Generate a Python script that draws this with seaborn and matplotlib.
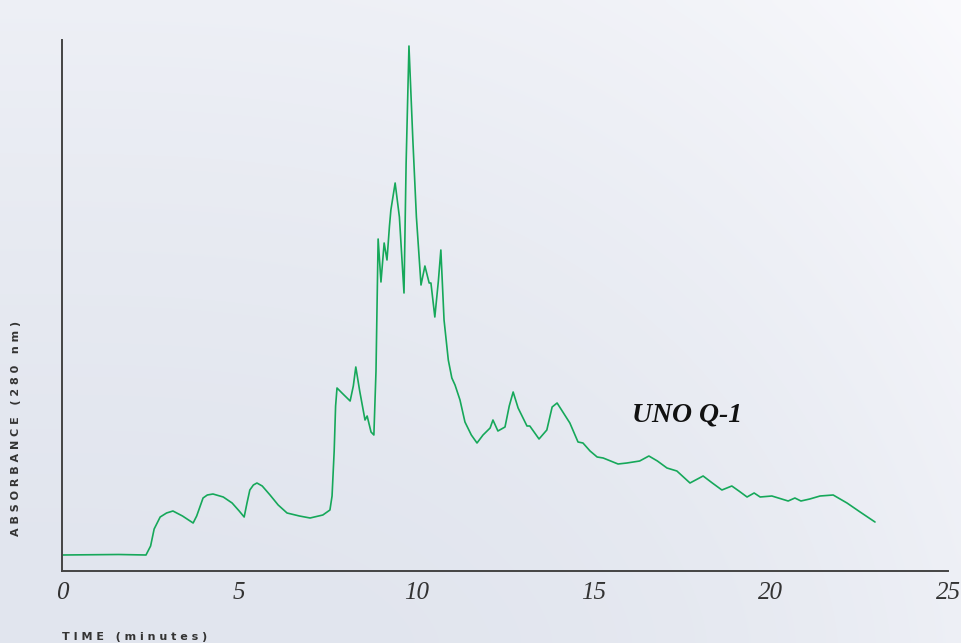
import numpy as np
import pandas as pd
import matplotlib
matplotlib.use("Agg")
import matplotlib.pyplot as plt
import seaborn as sns

# Chromatogram trace (time in minutes, absorbance in arbitrary units)
time_min = [0.0, 1.6, 2.37, 2.5, 2.6, 2.77, 2.95, 3.13, 3.4, 3.70, 3.8, 3.98, 4.1, 4.26,
            4.55, 4.8, 5.0, 5.14, 5.22, 5.3, 5.4, 5.50, 5.65, 5.87, 6.1, 6.35, 6.7, 7.0,
            7.36, 7.56, 7.62, 7.68, 7.72, 7.76, 7.9, 8.13, 8.22, 8.29, 8.4, 8.55, 8.61, 8.72,
            8.80, 8.86, 8.92, 9.0, 9.09, 9.17, 9.24, 9.28, 9.40, 9.52, 9.65, 9.71, 9.79, 9.9,
            10.0, 10.13, 10.24, 10.36, 10.41, 10.52, 10.62, 10.69, 10.78, 10.9, 11.0, 11.09,
            11.23, 11.37, 11.55, 11.71, 11.88, 12.08, 12.16, 12.3, 12.5, 12.62, 12.73, 12.87,
            13.12, 13.2, 13.46, 13.68, 13.83, 13.97, 14.15, 14.33, 14.56, 14.7, 14.9, 15.1,
            15.27, 15.69, 15.94, 16.3, 16.56, 16.8, 17.07, 17.35, 17.72, 18.09, 18.35, 18.62,
            18.9, 19.1, 19.33, 19.53, 19.7, 20.03, 20.49, 20.68, 20.85, 21.1, 21.39, 21.76,
            22.15, 22.52, 22.94]
absorbance = [16, 16.5, 16, 25, 42, 54, 58, 60, 55, 48, 55, 73, 76, 77,
              74, 68, 60, 54, 68, 81, 86, 88, 85, 76, 66, 58, 55, 53,
              56, 61, 75, 120, 165, 183, 178, 170, 185, 204, 180, 151, 155, 139,
              136, 200, 332, 289, 328, 311, 345, 361, 388, 354, 278, 408, 525, 431,
              354, 286, 305, 288, 288, 254, 290, 321, 251, 211, 193, 186,
              171, 149, 136, 128, 136, 143, 151, 140, 144, 165, 179, 163,
              145, 145, 132, 141, 164, 168, 158, 148, 129, 128, 120, 114,
              113, 107, 108, 110, 115, 110, 103, 100, 88, 95, 88, 81,
              85, 80, 74, 78, 74, 75, 70, 73, 70, 72, 75, 76,
              68, 59, 49]
x_ticks = [0, 5, 10, 15, 20, 25]
x_tick_labels = ["0", "5", "10", "15", "20", "25"]
trace_label = "UNO Q-1"

df = pd.DataFrame({"time": time_min, "abs": absorbance})

sns.set_style("white")
plt.rcParams["font.family"] = ["DejaVu Sans"]
plt.rcParams["lines.solid_joinstyle"] = "round"

W, H = 961, 643
fig = plt.figure(figsize=(W / 100, H / 100), dpi=100)

# background gradient
bg = fig.add_axes([0, 0, 1, 1], zorder=0)
xs = np.linspace(0, 1, 200)
ys = np.linspace(0, 1, 140)
X, Y = np.meshgrid(xs, ys)
w = 0.5 * (1 - Y) ** 1.5 + 0.5 * X ** 3
w = np.clip(w, 0, 1)[..., None]
dark = np.array([225, 229, 238]) / 255
light = np.array([250, 250, 253]) / 255
img = dark + (light - dark) * w
bg.imshow(img, aspect="auto", extent=[0, 1, 1, 0], interpolation="bicubic")
bg.set_axis_off()

ax = fig.add_axes([62 / W, 1 - 571 / H, (948 - 62) / W, 531 / H], zorder=1)
ax.patch.set_alpha(0)
sns.lineplot(data=df, x="time", y="abs", ax=ax, color="#16a85a", linewidth=1.2,
             sort=False, estimator=None)

ax.set_xlim(0, 25)
ax.set_ylim(0, 531)
ax.set_xticks(x_ticks)
ax.set_xticklabels(x_tick_labels, fontfamily="Liberation Serif", fontstyle="italic",
                   fontsize=18, color="#333333")
ax.set_yticks([])
ax.tick_params(axis="x", direction="in", length=7, width=1.3, color="#333333", pad=8)
ax.set_xlabel("")
ax.set_ylabel("")
for side in ["top", "right"]:
    ax.spines[side].set_visible(False)
for side in ["left", "bottom"]:
    ax.spines[side].set_color("#444444")
    ax.spines[side].set_linewidth(1.4)

ax.text(16.08, 149, trace_label, fontfamily="Liberation Serif", fontstyle="italic",
        fontweight="bold", fontsize=20, color="#111111", ha="left", va="baseline")

fig.text(62 / W, 1 - 632 / H, "T I M E   ( m i n u t e s )", fontsize=8,
         fontweight="bold", color="#333333", ha="left", va="top")
fig.text(16 / W, 1 - 428 / H, "A B S O R B A N C E   ( 2 8 0   n m )", fontsize=8,
         fontweight="bold", color="#333333", ha="center", va="center", rotation=90)

fig.savefig("out.png", dpi=100)
